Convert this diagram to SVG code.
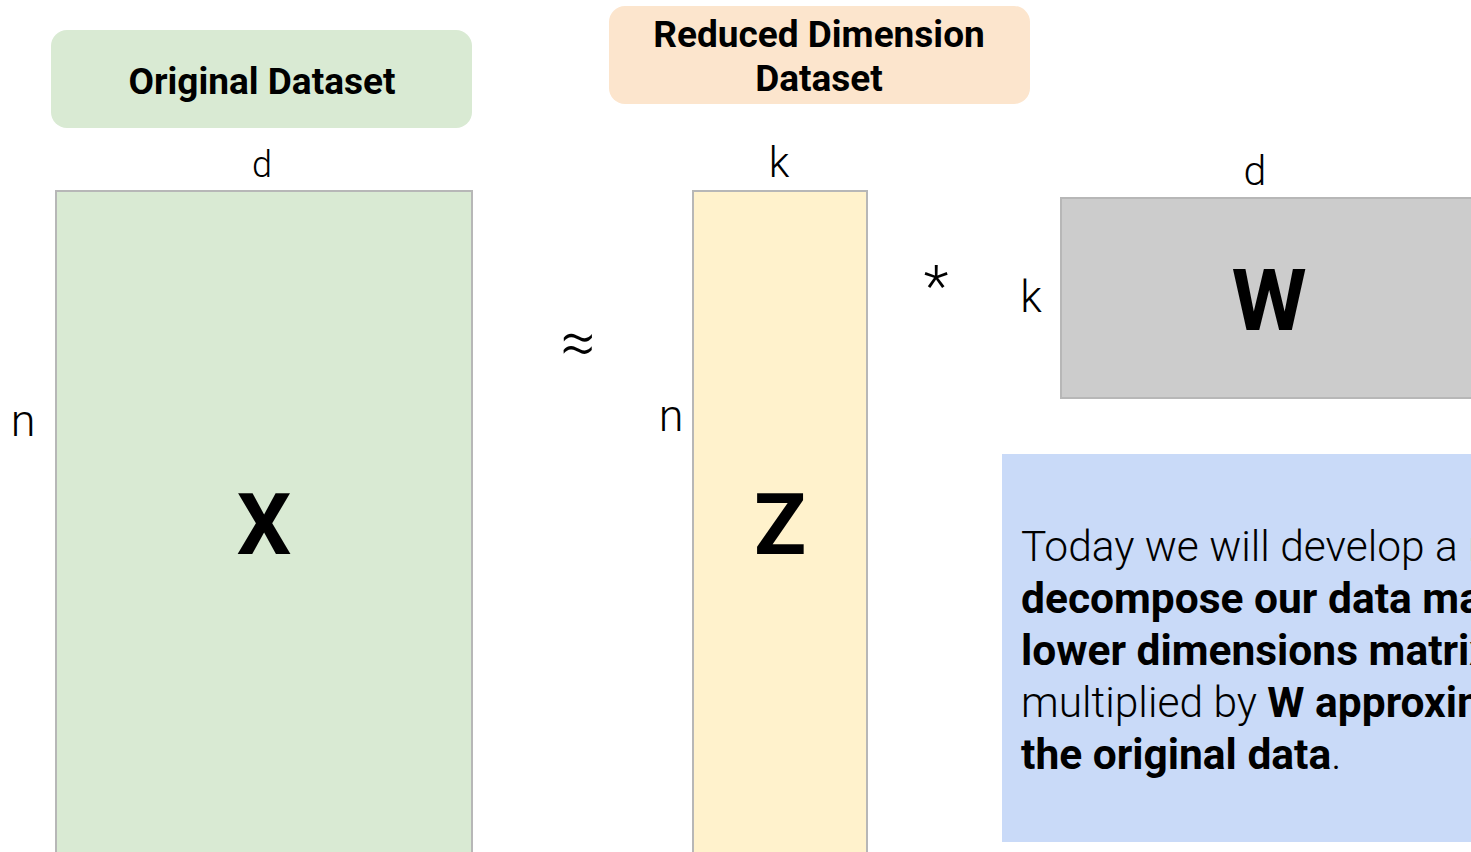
<svg xmlns="http://www.w3.org/2000/svg" width="1471" height="852" viewBox="0 0 1471 852">
<style>
text{font-family:Roboto,"Liberation Sans",sans-serif;fill:#000}
.h{font-weight:700;font-size:37px;text-anchor:middle}
.lab{font-weight:300;text-anchor:middle}
.big{font-weight:700;font-size:86px;text-anchor:middle}
.mat{stroke:#b7b7b7;stroke-width:2}
.body{font-size:42.5px;font-weight:300}
.b{font-weight:700}
</style>
<rect width="1471" height="852" fill="#fff"/>
<g id="original-header">
<rect x="51" y="30" width="421" height="98" rx="16" fill="#d9ead3"/>
<text class="h" x="262" y="94">Original Dataset</text>
</g>
<g id="reduced-header">
<rect x="609" y="6" width="421" height="98" rx="16" fill="#fce5cd"/>
<text class="h" x="819" y="47">Reduced Dimension</text>
<text class="h" x="819" y="91">Dataset</text>
</g>
<g id="matrix-x">
<rect class="mat" x="56" y="191" width="416" height="670" fill="#d9ead3"/>
<text class="big" x="264" y="554">X</text>
<text class="lab" x="262" y="177" font-size="36">d</text>
<text class="lab" x="23" y="436" font-size="45">n</text>
</g>
<g id="approx">
<text class="lab" x="578" y="364" font-size="62">≈</text>
</g>
<g id="matrix-z">
<rect class="mat" x="693" y="191" width="174" height="670" fill="#fff2cc"/>
<text class="big" x="780" y="554">Z</text>
<text class="lab" x="779" y="177" font-size="42">k</text>
<text class="lab" x="671" y="431" font-size="45">n</text>
</g>
<g id="times">
<text class="lab" x="936" y="306" font-size="58">*</text>
</g>
<g id="matrix-w">
<rect class="mat" x="1061" y="198" width="420" height="200" fill="#cccccc"/>
<text class="big" x="1269" y="330">W</text>
<text class="lab" x="1255" y="185" font-size="41">d</text>
<text class="lab" x="1031" y="312" font-size="44">k</text>
</g>
<g id="note">
<rect x="1002" y="454" width="480" height="388" fill="#c9daf8"/>
<text class="body" x="1021" y="561">Today we will develop a method</text>
<text class="body b" x="1021" y="613">decompose our data matrix</text>
<text class="body b" x="1021" y="665">lower dimensions matrix</text>
<text class="body" x="1021" y="717">multiplied by <tspan class="b">W approximates</tspan></text>
<text class="body" x="1021" y="769"><tspan class="b">the original data</tspan>.</text>
</g>
<g id="connectors"></g>
</svg>
